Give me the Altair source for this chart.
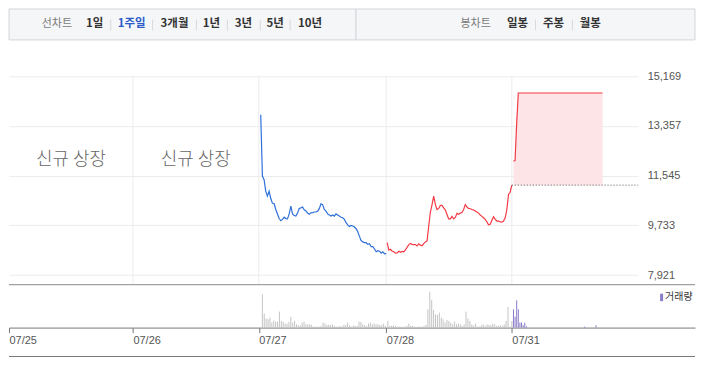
import json
import numpy as np
import pandas as pd
import altair as alt

# ---------------- data ----------------
DAYS = ["07/25", "07/26", "07/27", "07/28", "07/31"]
PRICE_TICKS = [7921, 9733, 11545, 13357, 15169]
PREV_CLOSE_0731 = 11200
NO_TRADE_DAYS = ["07/25", "07/26"]
NO_TRADE_LABEL = "신규 상장"

PRICE_0727 = [13770, 11530, 11400, 10980, 10800, 10980, 10710, 10540, 10530, 10310,
              10150, 9980, 9900, 9950, 10030, 9980, 9970, 10150, 10430, 10150,
              10090, 10070, 10180, 10350, 10370, 10400, 10300, 10260, 10180, 10140,
              10190, 10200, 10220, 10220, 10250, 10340, 10520, 10490, 10310, 10250,
              10150, 10110, 10070, 10110, 10070, 10150, 10110, 10070, 10030, 10010,
              9950, 9830, 9750, 9690, 9730, 9710, 9670, 9610, 9500, 9330,
              9180, 9130, 9100, 9100, 9040, 9060, 8960, 8960, 8870, 8770,
              8810, 8790, 8720, 8770, 8690, 8700]
PRICE_0728 = [9100, 8830, 8860, 8790, 8770, 8720, 8730, 8790, 8750, 8780,
              8770, 8840, 8930, 9030, 9070, 9040, 9030, 9030, 8980, 9060,
              9010, 8990, 9070, 9130, 9170, 9710, 10220, 10490, 10800, 10490,
              10310, 10350, 10460, 10460, 10370, 10290, 10130, 9970, 9970, 10060,
              9970, 10020, 10170, 10140, 10180, 10200, 10310, 10490, 10400, 10350,
              10340, 10310, 10290, 10260, 10220, 10180, 10110, 10060, 10010, 9950,
              9860, 9750, 9770, 9920, 10050, 9950, 9890, 9890, 9860, 9850,
              9890, 10010, 10310, 10860, 10940, 11200]
PRICE_0731 = [12070, 12100, 13470, 14560, 14560]
PRICE_TIME_0731 = ["09:05", "09:10", "09:15", "09:20", "13:40"]

VOL_0727 = [333, 140, 90, 83, 100, 50, 70, 60, 60, 160, 67, 57, 40, 40, 57, 107, 50, 67,
            33, 23, 23, 50, 60, 33, 33, 33, 27, 10, 10, 10, 10, 17, 50, 40, 27, 27, 27,
            33, 17, 10, 10, 17, 10, 27, 27, 50, 23, 10, 23, 17, 17, 60, 57, 33, 23, 17,
            40, 50, 33, 40, 33, 33, 27, 27, 40, 17]
VOL_0728 = [67, 17, 17, 23, 17, 10, 10, 10, 5, 10, 17, 40, 17, 17, 10, 5, 10, 10, 10, 17,
            27, 183, 360, 277, 177, 133, 127, 150, 100, 83, 50, 77, 67, 50, 33, 60, 33, 40,
            33, 17, 33, 160, 90, 67, 33, 23, 40, 10, 10, 23, 33, 17, 33, 27, 27, 40, 33,
            17, 17, 23, 17, 33, 67, 207, 10, 67]
VOL_0731 = [183, 110, 273, 183, 50, 50, 25, 50, 13, 10, 23]
VOL_TIME_0731 = ["09:05", "09:10", "09:15", "09:20", "09:25", "09:30", "09:35",
                 "09:40", "09:45", "12:45", "13:20"]
VOL_LABEL = "거래량"

DAY_DIRECTION = {"07/27": "down", "07/28": "up", "07/31": "up"}

TAB_LABELS = ["선차트", "1일", "1주일", "3개월", "1년", "3년", "5년", "10년",
              "봉차트", "일봉", "주봉", "월봉"]
TAB_CAPTIONS = ["선차트", "봉차트"]
TAB_SELECTED = "1주일"

# ---------------- layout ----------------
SESSION_MIN = 390  # 09:00 - 15:30
TAB_X = [48, 86, 123, 166, 203, 235, 267, 302, 468, 510, 546, 583]
TAB_SEP_X = [102, 144, 188, 219, 252, 282, 528, 565]
TAB_BOXES = [(0, 348), (348, 688)]
W_PRICE, H_PRICE = 631, 209
W_VOL, H_VOL = 688, 43
X_DOMAIN = [0, 1, 2, 3, 4, 5]
X_RANGE = [0, 124.3, 250.5, 378.3, 504.3, W_PRICE]
FONT_KR = "Noto Sans CJK KR"
FONT_NUM = "Liberation Sans"


def minutes(hhmm):
    h, m = map(int, hhmm.split(":"))
    return (h - 9) * 60 + m


def spread(n, first, last):
    return np.linspace(minutes(first), minutes(last), n)


def rows(day, values, mins, key):
    d = DAYS.index(day)
    return [{"day": day, "t": d + m / SESSION_MIN, key: v} for v, m in zip(values, mins)]


price_rows = (rows("07/27", PRICE_0727, spread(len(PRICE_0727), "09:06", "15:30"), "price")
              + rows("07/28", PRICE_0728, spread(len(PRICE_0728), "09:03", "15:30"), "price")
              + rows("07/31", PRICE_0731, [minutes(s) for s in PRICE_TIME_0731], "price"))
price_df = pd.DataFrame(price_rows)
price_df["dir"] = price_df["day"].map(DAY_DIRECTION)
today_df = price_df[price_df["day"] == DAYS[-1]].copy()
today_df["base"] = PREV_CLOSE_0731

vol_rows = (rows("07/27", VOL_0727, spread(len(VOL_0727), "09:11", "15:28"), "vol")
            + rows("07/28", VOL_0728, spread(len(VOL_0728), "09:05", "15:30"), "vol")
            + rows("07/31", VOL_0731, [minutes(s) for s in VOL_TIME_0731], "vol"))
vol_df = pd.DataFrame(vol_rows)
vol_df["kind"] = np.where(vol_df["day"] == DAYS[-1], "today", "past")
vol_df["zero"] = 0
VOL_MAX = 430

# ---------------- header ----------------
tab_df = pd.DataFrame({"label": TAB_LABELS, "x": TAB_X})
tab_df["style"] = [
    "caption" if l in TAB_CAPTIONS else ("selected" if l == TAB_SELECTED else "option")
    for l in TAB_LABELS
]
box_df = pd.DataFrame({"x0": [b[0] for b in TAB_BOXES], "x1": [b[1] for b in TAB_BOXES]})
sep_df = pd.DataFrame({"x": TAB_SEP_X})

boxes = alt.Chart(box_df).mark_rect(fill="#f5f6f8", stroke="#d3d5d9", strokeWidth=1).encode(
    x=alt.X("x0:Q", scale=None), x2="x1:Q", y=alt.value(0.5), y2=alt.value(31.5)
)
seps = alt.Chart(sep_df).mark_rule(color="#d9d9d9").encode(
    x=alt.X("x:Q", scale=None), y=alt.value(11), y2=alt.value(22)
)


def tab_text(style, color, weight, size):
    return alt.Chart(tab_df).transform_filter(alt.datum.style == style).mark_text(
        font=FONT_KR, fontSize=size, fontWeight=weight, color=color,
        align="center", baseline="middle"
    ).encode(x=alt.X("x:Q", scale=None), y=alt.value(16), text="label:N")


header = alt.layer(
    boxes, seps,
    tab_text("caption", "#7a7a7a", "normal", 11),
    tab_text("option", "#333333", "bold", 11.5),
    tab_text("selected", "#2b5bc8", "bold", 11.5),
).properties(width=W_VOL, height=68)

# ---------------- price pane ----------------
x_price = alt.Scale(domain=X_DOMAIN, range=X_RANGE, nice=False, zero=False)
y_price = alt.Scale(domain=[7568, 15169], nice=False, zero=False)
y_axis = alt.Axis(orient="right", values=PRICE_TICKS, format=",d", grid=True,
                  gridColor="#ececec", domain=False, ticks=False, labelPadding=9,
                  labelFont=FONT_NUM, labelFontSize=11, labelColor="#555555", title=None)
XP = alt.X("t:Q", scale=x_price, axis=None)

vgrid = alt.Chart(pd.DataFrame({"t": X_DOMAIN[1:5]})).mark_rule(color="#ececec").encode(x=XP)
area = alt.Chart(today_df).mark_area(color="#fde4e7", opacity=1).encode(
    x=XP, y=alt.Y("price:Q", scale=y_price, axis=y_axis), y2="base:Q"
)
prev_rule = alt.Chart(pd.DataFrame({"t": [DAYS.index(DAYS[-1])], "t2": [len(DAYS)],
                                    "price": [PREV_CLOSE_0731]})).mark_rule(
    color="#555555", strokeDash=[1, 2], strokeWidth=1
).encode(x=XP, x2="t2:Q", y=alt.Y("price:Q", scale=y_price, axis=y_axis))
lines = alt.Chart(price_df).mark_line(strokeWidth=1.2).encode(
    x=XP, y=alt.Y("price:Q", scale=y_price, axis=y_axis),
    color=alt.Color("dir:N", scale=alt.Scale(domain=["down", "up"], range=["#2f70da", "#f33b45"]),
                    legend=None),
    detail="day:N", order="t:Q",
)
notrade_df = pd.DataFrame({"t": [DAYS.index(d) + 0.5 for d in NO_TRADE_DAYS],
                           "label": [NO_TRADE_LABEL for _ in NO_TRADE_DAYS]})
notrade = alt.Chart(notrade_df).mark_text(font=FONT_KR, fontSize=18, fontWeight=300,
                                          color="#666666", align="center",
                                          baseline="middle").encode(
    x=XP, y=alt.value(84), text="label:N"
)
price_chart = alt.layer(vgrid, area, prev_rule, lines, notrade).properties(
    width=W_PRICE, height=H_PRICE
)

# ---------------- volume pane ----------------
x_vol = alt.Scale(domain=X_DOMAIN + [5 + (W_VOL - W_PRICE) / 126.7],
                  range=X_RANGE + [W_VOL], nice=False, zero=False)
y_vol = alt.Scale(domain=[0, VOL_MAX], nice=False, zero=True)
x_axis = alt.Axis(values=list(range(len(DAYS))),
                  labelExpr=json.dumps(DAYS) + "[datum.value]",
                  tickSize=5, tickColor="#777777", domainColor="#777777", labelAlign="left",
                  labelPadding=2, labelFont=FONT_NUM, labelFontSize=11, labelColor="#555555",
                  grid=False, title=None, labelFlush=False, labelOverlap=False, labelBound=False)
bars = alt.Chart(vol_df).mark_rule(strokeWidth=1).encode(
    x=alt.X("t:Q", scale=x_vol, axis=x_axis),
    y=alt.Y("vol:Q", scale=y_vol, axis=None), y2="zero:Q",
    color=alt.Color("kind:N", scale=alt.Scale(domain=["past", "today"],
                                              range=["#c4c4c6", "#8b7bc8"]), legend=None),
)
top_rule = alt.Chart(pd.DataFrame({"v": [VOL_MAX]})).mark_rule(color="#8a8a8a").encode(
    y=alt.Y("v:Q", scale=y_vol, axis=None)
)
bottom_rule = alt.Chart(pd.DataFrame({"a": [0]})).mark_rule(color="#777777").encode(
    y=alt.value(72)
)
swatch = alt.Chart(pd.DataFrame({"a": [0]})).mark_rect(color="#8b7bc8").encode(
    x=alt.value(653), x2=alt.value(656), y=alt.value(9), y2=alt.value(16.5)
)
legend_text = alt.Chart(pd.DataFrame({"label": [VOL_LABEL]})).mark_text(
    font=FONT_KR, fontSize=10, color="#333333", align="left", baseline="middle"
).encode(x=alt.value(658), y=alt.value(12.5), text="label:N")
vol_chart = alt.layer(bars, top_rule, bottom_rule, swatch, legend_text).properties(
    width=W_VOL, height=H_VOL
)

chart = alt.vconcat(header, price_chart, vol_chart, spacing=0, bounds="flush").resolve_scale(
    x="independent", y="independent", color="independent"
).properties(padding=0).configure_view(stroke=None)

chart.save("out.html", embed_options={"renderer": "svg", "actions": False})
